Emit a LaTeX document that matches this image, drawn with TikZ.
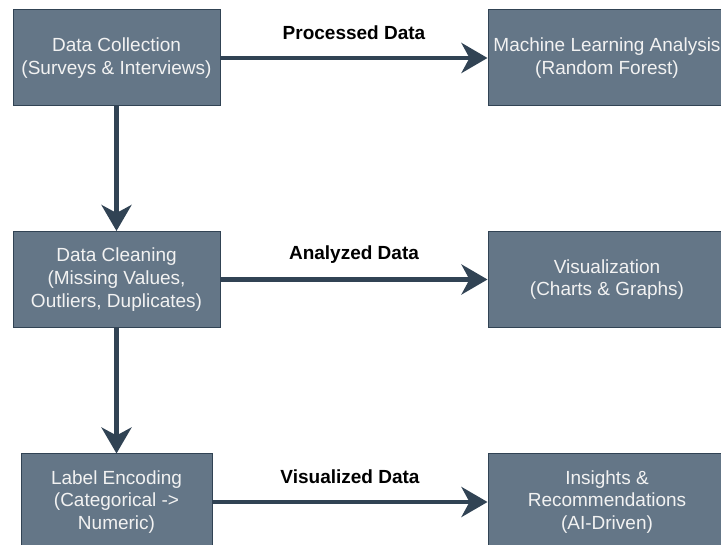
\documentclass[tikz,border=0pt]{standalone}
\usepackage{fontspec}
\setmainfont{Liberation Sans}
\usetikzlibrary{arrows.meta}
\definecolor{boxfill}{HTML}{647687}
\definecolor{boxline}{HTML}{314354}
\definecolor{boxtext}{HTML}{F2F2F2}
\begin{document}
\begin{tikzpicture}[x=1pt,y=-1pt,
  procbox/.style={draw=boxline, line width=1pt, fill=boxfill, text=boxtext,
    align=center, inner sep=0pt, minimum height=96pt,
    font=\fontsize{19}{22.8}\selectfont},
  flow/.style={draw=boxline, line width=4.5pt,
    -{Stealth[length=26pt,width=30pt,inset=8pt]}},
  flowlabel/.style={font=\fontsize{19}{22.8}\selectfont\bfseries, text=black}
]
\useasboundingbox (0,0) rectangle (721,545);
\clip (0,0) rectangle (721,545);
\node[procbox, minimum width=207pt] (dc) at (116.5,58) {Data Collection\\(Surveys \& Interviews)};
\node[procbox, minimum width=207pt] (cl) at (116.5,279.5) {Data Cleaning\\(Missing Values,\\Outliers, Duplicates)};
\node[procbox, minimum width=191pt] (le) at (116.5,502) {Label Encoding\\(Categorical ->\\Numeric)};
\node[procbox, minimum width=238pt] (ml) at (607,58) {Machine Learning Analysis\\(Random Forest)};
\node[procbox, minimum width=238pt] (vi) at (607,279.5) {Visualization\\(Charts \& Graphs)};
\node[procbox, minimum width=238pt] (in) at (607,502) {Insights \&\\Recommendations\\(AI-Driven)};
\draw[flow] (dc) -- (cl);
\draw[flow] (cl) -- (le);
\draw[flow] (dc) -- node[flowlabel, midway, yshift=25pt] {Processed Data} (ml);
\draw[flow] (cl) -- node[flowlabel, midway, yshift=25pt] {Analyzed Data} (vi);
\draw[flow] (le) -- node[flowlabel, midway, yshift=25pt] {Visualized Data} (in);
\end{tikzpicture}
\end{document}
